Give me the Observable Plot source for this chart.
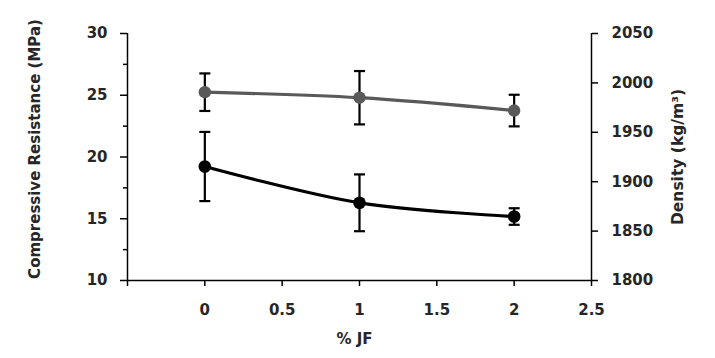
<!DOCTYPE html>
<html>
<head>
<meta charset="utf-8">
<script src="https://cdn.jsdelivr.net/npm/d3@7"></script>
<script src="https://cdn.jsdelivr.net/npm/@observablehq/plot@0.6"></script>
<style>
  html, body { margin: 0; padding: 0; background: #fff; }
</style>
</head>
<body>
<div id="chart"></div>
<script>
// ---- data ----
const jf = [0, 1, 2];
const compressive = [19.23, 16.29, 15.18];      // MPa
const compressiveErr = [2.8, 2.3, 0.67];
const density = [1990.6, 1985, 1972];            // kg/m3
const densityErr = [19, 27, 16];
const xTicks = [0, 0.5, 1, 1.5, 2, 2.5];
const leftTicks = [10, 15, 20, 25, 30];
const leftMinor = [12.5, 17.5, 22.5, 27.5];
const rightTicks = [1800, 1850, 1900, 1950, 2000, 2050];

// density (right axis) -> left-axis units
const dMin = 1800, dMax = 2050, cMin = 10, cMax = 30;
const toLeft = d => cMin + (d - dMin) * (cMax - cMin) / (dMax - dMin);
const fromLeft = v => String(Math.round(dMin + (v - cMin) * (dMax - dMin) / (cMax - cMin)));

const comp = jf.map((x, i) => ({x, y: compressive[i], lo: compressive[i] - compressiveErr[i], hi: compressive[i] + compressiveErr[i]}));
const dens = jf.map((x, i) => ({x, y: toLeft(density[i]), lo: toLeft(density[i] - densityErr[i]), hi: toLeft(density[i] + densityErr[i])}));
const bars = comp.concat(dens);
const caps = bars.flatMap(d => [{x: d.x, y: d.lo}, {x: d.x, y: d.hi}]);

const capSymbol = {
  draw(ctx) { ctx.moveTo(-5.5, 0); ctx.lineTo(5.5, 0); }
};

const GRAY = "#595959";
const TXT = "#262626";
const FONT = "'DejaVu Sans', sans-serif";

const chart = Plot.plot({
  width: 715,
  height: 358,
  marginLeft: 127,
  marginRight: 124,
  marginTop: 33,
  marginBottom: 78,
  style: {fontFamily: FONT, fontWeight: "bold", fontSize: "15px", color: TXT, background: "#fff"},
  x: {domain: [-0.5, 2.5]},
  y: {domain: [10, 30]},
  marks: [
    // axis lines
    Plot.ruleX([-0.5], {stroke: "#000", strokeWidth: 1.5}),
    Plot.ruleX([2.5], {stroke: "#000", strokeWidth: 1.5}),
    Plot.ruleY([10], {stroke: "#000", strokeWidth: 1.5}),
    // left axis
    Plot.axisY({ticks: leftTicks, tickFormat: d => String(d), tickSize: 7, tickPadding: 13, stroke: "#000", strokeWidth: 1.5, fontSize: 15, fill: TXT, label: null}),
    Plot.axisY({ticks: leftMinor, tickSize: 4, text: null, stroke: "#000", strokeWidth: 1.5, label: null}),
    // right axis
    Plot.axisY({anchor: "right", ticks: rightTicks.map(toLeft), tickFormat: fromLeft, tickSize: 6, tickPadding: 14, stroke: "#000", strokeWidth: 1.5, fontSize: 15, fill: TXT, label: null}),
    // x axis
    Plot.axisX({ticks: xTicks, tickFormat: d => String(d), tickSize: 6, tickPadding: 18, stroke: "#000", strokeWidth: 1.5, fontSize: 15, fill: TXT, label: null}),
    Plot.axisX({ticks: [-0.5], tickSize: 6, text: null, stroke: "#000", strokeWidth: 1.5, label: null}),
    // titles
    Plot.text(["Compressive Resistance (MPa)"], {frameAnchor: "left", textAnchor: "middle", lineAnchor: "middle", dx: -92, dy: -8, rotate: -90, fontSize: 15, fontWeight: "bold", fill: TXT}),
    Plot.text(["Density (kg/m³)"], {frameAnchor: "right", textAnchor: "middle", lineAnchor: "middle", dx: 87, rotate: -90, fontSize: 15.5, fontWeight: "bold", fill: TXT}),
    Plot.text(["% JF"], {frameAnchor: "bottom", textAnchor: "middle", lineAnchor: "middle", dy: 59, dx: -5, fontSize: 15, fontWeight: "bold", fill: TXT}),
    // error bars
    Plot.ruleX(bars, {x: "x", y1: "lo", y2: "hi", stroke: "#000", strokeWidth: 2.2}),
    Plot.dot(caps, {x: "x", y: "y", symbol: capSymbol, stroke: "#000", strokeWidth: 2.2, fill: "none", r: 6}),
    // lines
    Plot.line(dens, {x: "x", y: "y", curve: "catmull-rom", stroke: GRAY, strokeWidth: 3.2}),
    Plot.line(comp, {x: "x", y: "y", curve: "catmull-rom", stroke: "#000", strokeWidth: 3.2}),
    // markers
    Plot.dot(dens, {x: "x", y: "y", r: 6.2, fill: GRAY, stroke: "none"}),
    Plot.dot(comp, {x: "x", y: "y", r: 6.3, fill: "#000", stroke: "none"})
  ]
});
document.getElementById("chart").appendChild(chart);
</script>
</body>
</html>
